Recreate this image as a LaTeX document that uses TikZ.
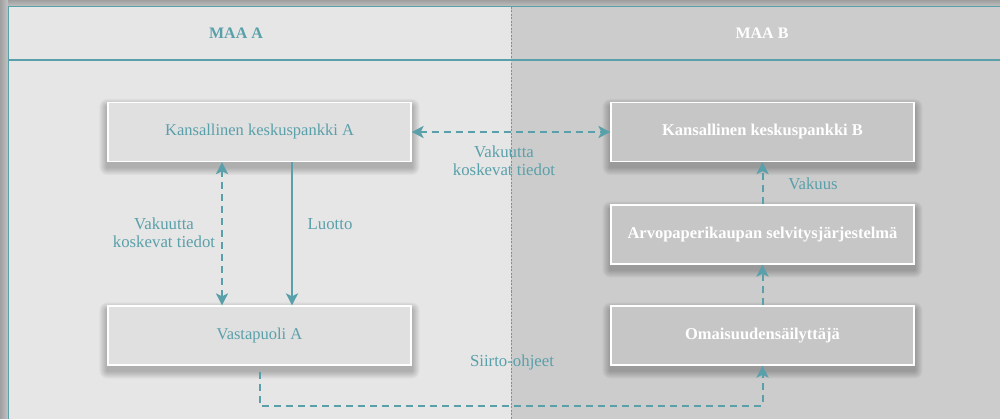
\documentclass[tikz,border=0pt]{standalone}
\usepackage{fontspec}
\setmainfont{Liberation Serif}
\usetikzlibrary{arrows.meta,calc,backgrounds}
\definecolor{teal}{RGB}{90,160,170}
\definecolor{panelA}{RGB}{230,230,230}
\definecolor{panelB}{RGB}{204,204,204}
\definecolor{boxA}{RGB}{224,224,224}
\definecolor{boxB}{RGB}{198,198,198}
\definecolor{outer}{RGB}{195,195,195}
\tikzset{
  box/.style={minimum width=303pt, minimum height=59pt, draw=white, line width=1.2pt,
    font=\fontsize{16.5}{19}\selectfont, inner sep=0pt},
  boxa/.style={box, fill=boxA, text=teal},
  boxb/.style={box, fill=boxB, text=white, font=\fontsize{16.5}{19}\selectfont\bfseries},
  lbl/.style={text=teal, font=\fontsize{16.8}{18}\selectfont, align=center, inner sep=0pt},
  tip/.style={-{Stealth[length=12pt,width=12pt,inset=3pt]}},
  conn/.style={draw=teal, line width=2pt, tip},
  dconn/.style={conn, dash pattern=on 7pt off 5pt},
  hdr/.style={font=\fontsize{16}{18}\selectfont\bfseries, inner sep=0pt}
}
\newcommand{\softshadow}[1]{%
  \foreach \i in {1,...,8}{%
    \fill[black, opacity=0.03, rounded corners=\i pt] ([xshift=-\i pt, yshift=\i pt-5pt]#1.north west) rectangle ([xshift=\i pt, yshift=-\i pt-5pt]#1.south east);
  }}
\begin{document}
\begin{tikzpicture}[x=1pt,y=-1pt]
\useasboundingbox (0,0) rectangle (1000,419);
% boxes
\node[boxa] (KA) at (259.5,132) {Kansallinen keskuspankki A};
\node[boxb] (KB) at (762.5,132) {Kansallinen keskuspankki B};
\node[boxb] (AR) at (762.5,234.5) {Arvopaperikaupan selvitysjärjestelmä};
\node[boxa] (VA) at (259.5,335.5) {Vastapuoli A};
\node[boxb] (OM) at (762.5,335.5) {Omaisuudensäilyttäjä};
\begin{scope}[on background layer]
\fill[outer] (0,0) rectangle (1000,419);
\shade[left color=gray!75, right color=outer] (0,0) rectangle (8,419);
\shade[top color=gray!75, bottom color=outer] (8,0) rectangle (1000,7);
\fill[panelA] (8,7) rectangle (511,419);
\fill[panelB] (511,7) rectangle (1000,419);
\softshadow{KA}\softshadow{KB}\softshadow{AR}\softshadow{VA}\softshadow{OM}
\end{scope}
\draw[teal, line width=1pt] (8,419) -- (8,7) -- (1000,7);
\draw[teal, line width=2pt] (8,60) -- (1000,60);
\draw[teal, line width=1pt, dash pattern=on 2pt off 1.5pt] (511,7) -- (511,419);
\node[hdr, text=teal] (hA) at (236,33) {MAA A};
\node[hdr, text=white] (hB) at (762,33) {MAA B};
% connectors
\draw[dconn, {Stealth[length=12pt,width=12pt,inset=3pt]}-{Stealth[length=12pt,width=12pt,inset=3pt]}] (KA.east) -- (KB.west);
\draw[dconn, {Stealth[length=12pt,width=12pt,inset=3pt]}-{Stealth[length=12pt,width=12pt,inset=3pt]}] ([xshift=-37.5pt]KA.south) -- ([xshift=-37.5pt]VA.north);
\draw[conn] ([xshift=32.5pt]KA.south) -- ([xshift=32.5pt]VA.north);
\draw[dconn] (AR.north) -- (KB.south);
\draw[dconn] (OM.north) -- (AR.south);
\coordinate (s0) at ([xshift=0.5pt, yshift=-6pt]VA.south);
\draw[dconn] (s0) -- ++(0,34) -| (OM.south);
% labels
\node[lbl] (l1) at (504,161) {Vakuutta\\koskevat tiedot};
\node[lbl] (l2) at (164,233) {Vakuutta\\koskevat tiedot};
\node[lbl] (l3) at (330,224) {Luotto};
\node[lbl] (l4) at (813,184) {Vakuus};
\node[lbl] (l5) at (512,362) {Siirto-ohjeet};
\end{tikzpicture}
\end{document}
